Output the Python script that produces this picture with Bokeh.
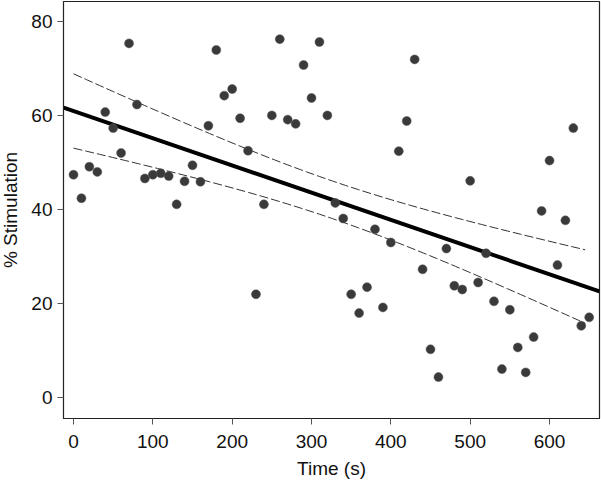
import numpy as np
from bokeh.plotting import figure
from bokeh.models import Range1d, FixedTicker, ColumnDataSource
from bokeh.embed import file_html
from bokeh.resources import INLINE

time_s = list(range(0, 660, 10))
stimulation = [
    47.4, 42.4, 49.1, 48.0, 60.7, 57.3, 52.0, 75.3, 62.3, 46.6,
    47.4, 47.7, 47.1, 41.1, 46.0, 49.4, 45.9, 57.8, 73.9, 64.2,
    65.6, 59.4, 52.5, 22.0, 41.1, 60.0, 76.2, 59.1, 58.2, 70.7,
    63.7, 75.6, 60.0, 41.4, 38.1, 22.0, 18.0, 23.5, 35.8, 19.2,
    33.0, 52.4, 58.8, 71.9, 27.3, 10.3, 4.4, 31.7, 23.8, 23.0,
    46.1, 24.5, 30.7, 20.5, 6.1, 18.7, 10.7, 5.4, 12.9, 39.7,
    50.4, 28.2, 37.7, 57.3, 15.3, 17.1,
]
x_ticks = [0, 100, 200, 300, 400, 500, 600]
y_ticks = [0, 20, 40, 60, 80]
t_crit = 1.998  # t(0.975, df=64)

x = np.array(time_s, dtype=float)
y = np.array(stimulation, dtype=float)
n = len(x)
slope, intercept = np.polyfit(x, y, 1)
resid = y - (intercept + slope * x)
s = np.sqrt(np.sum(resid ** 2) / (n - 2))
xbar = x.mean()
sxx = np.sum((x - xbar) ** 2)

fit_x = np.array([-12.6, 663.0])
fit_y = intercept + slope * fit_x

band_x = np.linspace(0, 645, 80)
band_c = intercept + slope * band_x
hw = t_crit * s * np.sqrt(1.0 / n + (band_x - xbar) ** 2 / sxx)

p = figure(width=604, height=488, output_backend="svg", toolbar_location=None,
           x_range=Range1d(-12.6, 663), y_range=Range1d(-4.4, 84.2),
           min_border_left=63, min_border_right=2, min_border_top=1, min_border_bottom=70)
p.styles = {"margin-left": "-3px"}

p.grid.visible = False
p.outline_line_color = "#222222"
p.outline_line_width = 1.2

for ax in (p.xaxis[0], p.yaxis[0]):
    ax.axis_line_color = "#222222"
    ax.major_tick_line_color = "#555555"
    ax.major_tick_in = 0
    ax.major_tick_out = 6
    ax.minor_tick_line_color = None
    ax.major_label_text_font = "Liberation Sans"
    ax.major_label_text_font_size = "19px"
    ax.major_label_text_color = "#111111"
    ax.axis_label_text_font = "Liberation Sans"
    ax.axis_label_text_font_size = "19px"
    ax.axis_label_text_font_style = "normal"
    ax.axis_label_text_color = "#111111"

p.xaxis.ticker = FixedTicker(ticks=x_ticks)
p.yaxis.ticker = FixedTicker(ticks=y_ticks)
p.xaxis.axis_label = "Time (s)"
p.yaxis.axis_label = "% Stimulation"
p.xaxis.major_label_standoff = 10
p.yaxis.major_label_standoff = 5
p.xaxis.axis_label_standoff = 7
p.yaxis.axis_label_standoff = 7

p.line(band_x, band_c + hw, line_color="#333333", line_width=1, line_dash="9 3")
p.line(band_x, band_c - hw, line_color="#333333", line_width=1, line_dash="9 3")
p.line(fit_x, fit_y, line_color="black", line_width=4)

src = ColumnDataSource(dict(t=time_s, v=stimulation))
p.scatter("t", "v", source=src, size=9, fill_color="#3a3a3a", line_color="#555555", line_width=0.5)

open("out.html", "w").write(file_html(p, INLINE))
